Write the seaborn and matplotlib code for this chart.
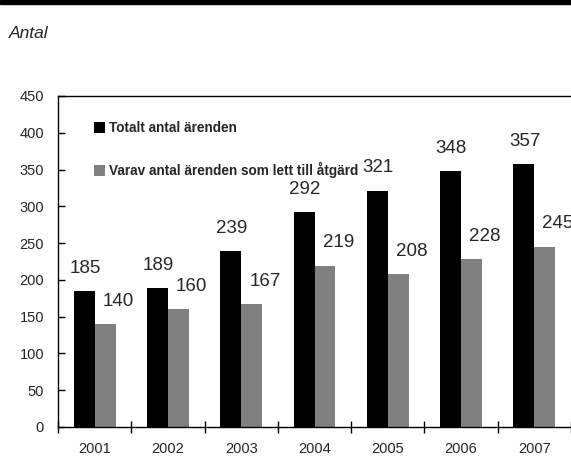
import matplotlib
matplotlib.use("Agg")
import matplotlib.pyplot as plt
import numpy as np
import pandas as pd
import seaborn as sns

years = ["2001", "2002", "2003", "2004", "2005", "2006", "2007"]
totalt = [185, 189, 239, 292, 321, 348, 357]
atgard = [140, 160, 167, 219, 208, 228, 245]
series_names = ["Totalt antal ärenden", "Varav antal ärenden som lett till åtgärd"]
y_ticks = [0, 50, 100, 150, 200, 250, 300, 350, 400, 450]

df = pd.DataFrame({
    "year": years * 2,
    "value": totalt + atgard,
    "serie": [series_names[0]] * len(years) + [series_names[1]] * len(years),
})

sns.set_theme(style="white")
plt.rcParams["font.family"] = ["Liberation Sans", "DejaVu Sans"]

fig = plt.figure(figsize=(5.71, 4.59), dpi=100)
ax = fig.add_axes([58 / 571, 32 / 459, 1 - 58 / 571, 331 / 459])

sns.barplot(
    data=df, x="year", y="value", hue="serie", order=years,
    hue_order=series_names, palette=["#000000", "#808080"],
    width=2 / 3.5, gap=0, saturation=1, linewidth=0, ax=ax, legend=True,
)

# value labels above bars (grey-series labels sit a little to the right)
for i, cont in enumerate(ax.containers):
    dx = 0.5 if i == 0 else 9.5
    for rect in cont:
        h = rect.get_height()
        ax.annotate(f"{h:.0f}", (rect.get_x() + rect.get_width() / 2, h),
                    xytext=(dx, 16.5), textcoords="offset points",
                    ha="center", va="center", fontsize=13.5,
                    annotation_clip=False)

ax.set_ylim(0, 450)
ax.set_xlim(-0.5, 6.5)
ax.set_yticks(y_ticks)
ax.set_yticklabels([str(t) for t in y_ticks], fontsize=10.5)
ax.set_xticks(np.arange(-0.5, 7, 1))
ax.set_xticklabels([])
ax.set_xticks(range(len(years)), minor=True)
ax.set_xticklabels(years, minor=True, fontsize=10.5)
ax.tick_params(axis="x", which="major", direction="inout", length=8, width=1, color="black", bottom=True)
ax.tick_params(axis="x", which="minor", length=0, pad=11)
ax.tick_params(axis="y", direction="in", length=5, width=1, color="black", left=True, pad=10)
ax.set_xlabel("")
ax.set_ylabel("")
for s in ["left", "bottom", "top"]:
    ax.spines[s].set_color("black")
    ax.spines[s].set_linewidth(1)
ax.spines["right"].set_visible(False)

leg = ax.legend(loc="upper left", bbox_to_anchor=(0.046, 0.962), frameon=False,
                handlelength=0.85, handleheight=0.85, handletextpad=0.25,
                labelspacing=2.0, prop={"weight": "bold", "size": 9.8})

# header band and unit label
fig.patches.append(plt.Rectangle((0, 1 - 4 / 459), 1, 4 / 459, transform=fig.transFigure,
                                 color="black", zorder=0))
fig.text(9 / 571, 1 - 33 / 459, "Antal", style="italic", fontsize=12.5, va="center", ha="left")

fig.savefig("out.png", dpi=100)
